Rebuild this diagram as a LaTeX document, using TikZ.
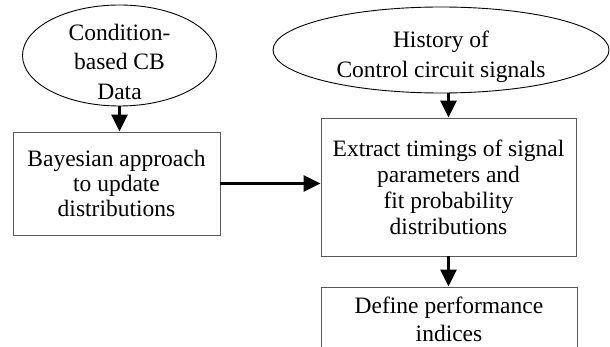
\documentclass[tikz,border=0pt]{standalone}
\usepackage{fontspec}
\setmainfont{Liberation Serif}
\usetikzlibrary{shapes.geometric,arrows.meta}
\begin{document}
\begin{tikzpicture}[x=1pt,y=-1pt,
  every node/.style={font=\fontsize{23.5}{25}\selectfont, align=center, inner sep=0pt},
  oval/.style={ellipse, draw=black, line width=0.9pt},
  stepbox/.style={rectangle, draw=black!65, line width=0.9pt},
  flow/.style={line width=3pt, -{Triangle[length=17pt,width=16pt]}}]
  \useasboundingbox (0,0) rectangle (610,347);
  \clip (0,0) rectangle (610,347);
  \fill[white] (0,0) rectangle (610,347);

  % sources of data: outlines, then their captions set a little low
  \node[oval, minimum width=194pt, minimum height=101pt] (cbdata) at (119.5,55.5) {};
  \node[oval, minimum width=336pt, minimum height=86pt] (history) at (441,50) {};
  \node[font=\fontsize{23.5}{29.5}\selectfont, yshift=-6pt] (cbdatatext) at (cbdata.center)
    {Condition-\\based CB\\Data};
  \node[font=\fontsize{23.5}{30}\selectfont, yshift=-7pt] (historytext) at (history.center)
    {History of\\Control circuit signals};

  % processing steps
  \node[stepbox, minimum width=207pt, minimum height=103pt] (bayes) at (116.5,183.5)
    {Bayesian approach\\to update\\distributions};
  \node[stepbox, minimum width=255pt, minimum height=138pt, font=\fontsize{23.5}{26}\selectfont]
    (extract) at (448.5,187) {Extract timings of signal\\parameters and\\fit probability\\distributions};
  \node[stepbox, minimum width=256pt, minimum height=64pt, font=\fontsize{23.5}{28}\selectfont]
    (indices) at (449,319) {Define performance\\indices};

  % connectors
  \draw[flow] (cbdata.south) -- (cbdata.south |- bayes.north);
  \draw[flow] (extract.north |- history.south) -- (extract.north);
  \draw[flow] (bayes.east) -- (bayes.east -| extract.west);
  \draw[flow] (extract.south) -- (extract.south |- indices.north);
\end{tikzpicture}
\end{document}
